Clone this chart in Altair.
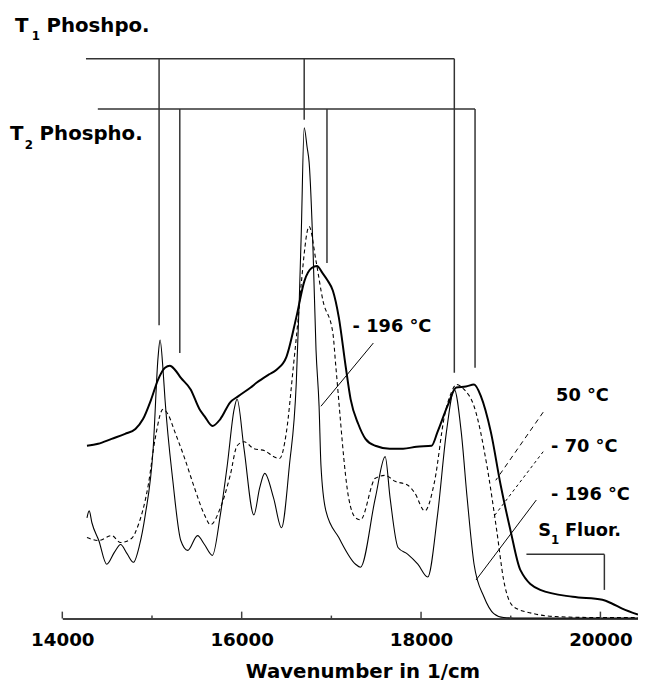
import altair as alt
import pandas as pd

# ---- spectra (wavenumber in 1/cm, intensity in arbitrary units) ----
wn_m196 = [14275,14300,14330,14407,14495,14580,14650,14720,14793,14860,14925,15013,15068,15090,15123,15145,15233,15321,15398,15508,15585,15674,15762,15839,15916,15949,16026,16136,16200,16257,16356,16444,16532,16609,16642,16664,16697,16730,16752,16796,16829,16863,16884,16939,17083,17270,17325,17490,17600,17655,17743,17853,17964,18074,18184,18283,18371,18448,18514,18591,18701,18811,18921,19100,19500,20000,20419]
int_m196 = [20.4,21.8,19.4,15.8,11.0,13.4,15.0,13.2,11.4,14.8,21.0,34.4,53.0,56.4,50.4,44.4,27.8,15.8,13.8,16.8,15.0,12.8,21.0,31.0,42.4,44.4,34.4,21.0,26.4,29.4,24.4,18.4,31.0,47.8,64.4,77.8,99.4,95.4,92.4,74.4,54.4,43.0,31.0,21.8,16.4,11.0,10.4,24.4,32.8,24.4,14.4,13.0,11.0,8.4,21.0,37.8,46.4,37.8,24.4,11.0,4.4,1.0,0.2,0.1,0.1,0.1,0.1]

wn_m70 = [14275,14407,14550,14650,14771,14848,14958,15035,15123,15178,15255,15365,15475,15585,15652,15762,15872,15949,16026,16136,16257,16356,16422,16499,16576,16631,16664,16752,16829,16906,17017,17050,17193,17270,17325,17490,17600,17710,17853,17931,18041,18151,18261,18338,18393,18480,18591,18734,18844,18921,19031,19252,19500,20000,20419]
int_m70 = [16.4,15.8,16.8,15.4,16.2,19.0,27.0,36.4,42.4,41.4,37.8,32.4,26.4,21.0,19.0,22.4,29.0,35.0,35.8,34.4,34.0,32.8,32.4,37.8,51.0,61.0,67.8,79.4,72.4,64.4,57.8,51.0,24.4,20.4,20.0,28.4,29.0,27.8,27.0,25.4,21.8,27.8,41.0,45.8,47.4,46.4,43.0,31.0,17.8,7.8,2.4,1.0,0.4,0.2,0.2]

wn_p50 = [14275,14400,14550,14700,14815,14900,14991,15068,15145,15200,15255,15320,15431,15530,15585,15674,15762,15872,15960,16100,16169,16300,16389,16499,16609,16700,16780,16840,16900,16960,17017,17083,17160,17215,17300,17380,17490,17650,17800,17950,18118,18184,18294,18393,18500,18591,18668,18778,18888,18998,19108,19329,19692,20022,20133,20243,20419]
int_p50 = [35.0,35.4,36.4,37.4,38.4,40.4,44.4,48.4,50.8,51.2,50.4,48.8,46.4,42.4,41.0,39.0,40.4,43.8,45.0,46.8,47.8,49.4,50.4,53.0,61.0,68.4,71.0,71.4,70.0,68.4,66.4,61.0,51.0,44.4,39.4,36.4,35.0,34.4,34.4,34.8,35.0,37.8,43.0,46.8,47.0,47.4,45.0,37.8,27.0,17.8,9.8,5.8,4.4,3.8,3.0,2.0,0.8]

# ---- axis ticks ----
major_ticks = [14000, 16000, 18000, 20000]
minor_ticks = [15000, 17000, 19000]

# ---- assignment brackets (x, y, x2, y2) ----
bracket_x  = [14264, 15079, 16697, 18371, 14396, 15310, 16951, 18602, 19175, 20044]
bracket_y  = [113.4, 113.4, 113.4, 113.4, 103.2, 103.2, 103.2, 103.2, 13.0, 13.0]
bracket_x2 = [18371, 15079, 16697, 18371, 18602, 15310, 16951, 18602, 20044, 20044]
bracket_y2 = [113.4, 59.4, 101.0, 49.8, 103.2, 53.8, 72.0, 50.8, 13.0, 5.8]

# ---- label pointer lines ----
ptr_solid_x  = [17468, 19285]
ptr_solid_y  = [55.8, 24.0]
ptr_solid_x2 = [16884, 18613]
ptr_solid_y2 = [43.0, 7.8]
ptr_p50 = [19362, 41.8, 18833, 28.0]
ptr_m70 = [19362, 33.8, 18800, 20.4]

# ---- text labels ----
txt_text = ["T", "1", "Phoshpo.", "T", "2", "Phospho.", "- 196 °C", "50 °C", "- 70 °C", "- 196 °C", "S", "1", "Fluor."]
txt_x    = [13472, 13659, 13824, 13416, 13582, 13747, 17237, 19505, 19450, 19450, 19307, 19450, 19604]
txt_y    = [118.8, 117.2, 118.8, 97.0, 95.0, 97.0, 58.0, 44.0, 33.8, 24.0, 16.8, 15.0, 16.8]
txt_size = [20, 12, 20, 20, 12, 20, 18, 18, 18, 18, 18, 12, 18]

FONT = "DejaVu Sans"
XDOM = [14000, 20419]
YDOM = [0, 122.8]

xs = alt.Scale(domain=XDOM, nice=False, zero=False)
ys = alt.Scale(domain=YDOM, nice=False, zero=False)

xaxis = alt.Axis(values=major_ticks, format="d", ticks=False, grid=False,
                 domainColor="#404040", domainWidth=2,
                 labelFont=FONT, labelFontWeight="bold", labelFontSize=18.5,
                 labelColor="black", labelPadding=12, labelFlush=False,
                 title="Wavenumber in 1/cm", titleFont=FONT, titleFontWeight="bold",
                 titleFontSize=20, titleColor="black", titleX=304,
                 titleAlign="center", titleBaseline="alphabetic", titleY=60)


def spectrum(wn, inten, dash, width, axis):
    df = pd.DataFrame({"wn": wn, "I": inten})
    kw = dict(color="black", strokeWidth=width, interpolate="monotone")
    if dash:
        kw["strokeDash"] = dash
    xenc = alt.X("wn:Q", scale=xs, axis=xaxis) if axis else alt.X("wn:Q", scale=xs)
    return alt.Chart(df).mark_line(**kw).encode(
        x=xenc,
        y=alt.Y("I:Q", scale=ys, axis=None),
    )


line_m196 = spectrum(wn_m196, int_m196, None, 1.1, True)
line_m70 = spectrum(wn_m70, int_m70, [4, 3], 1.1, False)
line_p50 = spectrum(wn_p50, int_p50, None, 2.0, False)


def segs(x, y, x2, y2, color, width, dash=None):
    df = pd.DataFrame({"x": x, "y": y, "x2": x2, "y2": y2})
    kw = dict(color=color, strokeWidth=width)
    if dash:
        kw["strokeDash"] = dash
    return alt.Chart(df).mark_rule(**kw).encode(
        x=alt.X("x:Q", scale=xs), y=alt.Y("y:Q", scale=ys),
        x2=alt.X2("x2:Q"), y2=alt.Y2("y2:Q"))


n_all = len(major_ticks) + len(minor_ticks)
ticks = segs(major_ticks + minor_ticks, [0.0] * n_all,
             major_ticks + minor_ticks,
             [1.4] * len(major_ticks) + [0.6] * len(minor_ticks), "#404040", 1.5)

brackets = segs(bracket_x, bracket_y, bracket_x2, bracket_y2, "#333333", 1.5)
pointers_solid = segs(ptr_solid_x, ptr_solid_y, ptr_solid_x2, ptr_solid_y2, "black", 1)
pointer_p50 = segs([ptr_p50[0]], [ptr_p50[1]], [ptr_p50[2]], [ptr_p50[3]], "black", 1, [5, 4])
pointer_m70 = segs([ptr_m70[0]], [ptr_m70[1]], [ptr_m70[2]], [ptr_m70[3]], "black", 1, [3, 3])

txt_df = pd.DataFrame({"t": txt_text, "x": txt_x, "y": txt_y, "s": txt_size})
texts = alt.Chart(txt_df).mark_text(align="left", baseline="alphabetic", font=FONT,
                                     fontWeight="bold", color="black").encode(
    x=alt.X("x:Q", scale=xs), y=alt.Y("y:Q", scale=ys), text="t:N",
    size=alt.Size("s:Q", scale=None, legend=None))

chart = alt.layer(line_m196, line_m70, line_p50, brackets, pointers_solid,
                  pointer_p50, pointer_m70, ticks, texts).properties(
    width=583, height=614,
    autosize=alt.AutoSizeParams(type="none"),
    padding={"left": 55, "top": 0, "right": 0, "bottom": 62},
    background="white",
).configure_view(stroke=None)

chart.save("out.html", embed_options={"renderer": "svg", "actions": False})
